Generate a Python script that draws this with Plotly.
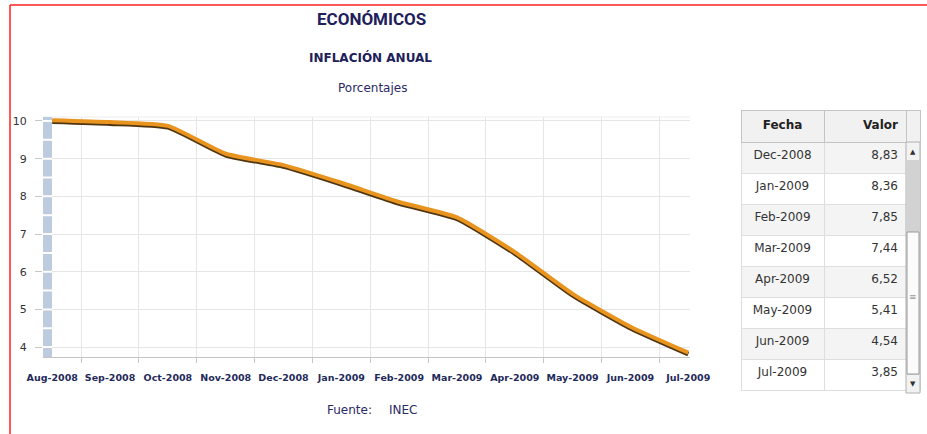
import plotly.graph_objects as go

# ---- data ----
months = ["Aug-2008", "Sep-2008", "Oct-2008", "Nov-2008", "Dec-2008", "Jan-2009",
          "Feb-2009", "Mar-2009", "Apr-2009", "May-2009", "Jun-2009", "Jul-2009"]
values = [10.02, 9.97, 9.87, 9.13, 8.83, 8.36, 7.85, 7.44, 6.52, 5.41, 4.54, 3.85]
y_ticks = [4, 5, 6, 7, 8, 9, 10]
table_start = 4  # rows visible in the table (Dec-2008 .. Jul-2009)

W, H = 927, 434
def px(x):
    return x / W
def py(y):
    return 1 - y / H

NAVY = "#20205a"
FONT = "DejaVu Sans"

table_dates = months[table_start:]
table_vals = [f"{v:.2f}".replace(".", ",") for v in values[table_start:]]
row_fill = ["#f4f4f4" if i % 2 == 0 else "#ffffff" for i in range(len(table_dates))]

fig = go.Figure()

# empty trace to anchor the base axis pair
fig.add_trace(go.Scatter(x=months, y=[None] * len(months), mode="lines",
                         hoverinfo="skip", showlegend=False))
# shadow line (on an overlaying axis with a slightly shifted range)
fig.add_trace(go.Scatter(
    x=months, y=values, mode="lines", yaxis="y2", hoverinfo="skip",
    line=dict(color="#4f3512", width=4.5, shape="spline", smoothing=0.5),
    showlegend=False))
fig.add_trace(go.Scatter(
    x=months, y=values, mode="lines", yaxis="y3",
    line=dict(color="#E8941E", width=4, shape="spline", smoothing=0.5),
    showlegend=False))

fig.add_trace(go.Table(
    domain=dict(x=[px(741), px(920)], y=[py(393), py(110)]),
    columnwidth=[83, 82, 14],
    header=dict(values=["<b>Fecha</b>", "<b>Valor</b>", ""],
                align=["center", "right", "center"],
                fill_color="#f1f1f1", line_color="#c4c4c4",
                font=dict(family=FONT, size=12, color="#222222"), height=32),
    cells=dict(values=[table_dates, table_vals, [""] * len(table_dates)],
               align=["center", "right", "center"],
               fill_color=[row_fill, row_fill, ["#ffffff"] * len(table_dates)],
               line_color="#dedede",
               font=dict(family=FONT, size=12, color="#333333"), height=31),
))

y_lo, y_hi = 3.735, 10.106
shift = 0.04

shapes = [
    # red frame
    dict(type="line", xref="paper", yref="paper", x0=px(10), x1=1.0, y0=py(5), y1=py(5),
         line=dict(color="#ff2020", width=1.5)),
    dict(type="line", xref="paper", yref="paper", x0=px(10), x1=px(10), y0=py(5), y1=0,
         line=dict(color="#ff2020", width=1.5)),
    # faint top border of plot
    dict(type="line", xref="paper", yref="paper", x0=px(43), x1=px(690), y0=py(117), y1=py(117),
         line=dict(color="#ececec", width=1), layer="below"),
    # blue band at left
    dict(type="rect", xref="paper", yref="paper", x0=px(43), x1=px(52), y0=py(357), y1=py(117),
         fillcolor="#bccbdd", line=dict(width=0)),
    dict(type="line", xref="paper", yref="paper", x0=px(47.5), x1=px(47.5), y0=py(120), y1=py(357),
         line=dict(color="#ffffff", width=9, dash="2px,16.84px")),
    # scrollbar
    dict(type="rect", xref="paper", yref="paper", x0=px(906), x1=px(920), y0=py(393), y1=py(142),
         fillcolor="#f2f2f2", line=dict(color="#b0b0b0", width=1)),
    dict(type="rect", xref="paper", yref="paper", x0=px(906.5), x1=px(919.5), y0=py(375), y1=py(160),
         fillcolor="#d2d2d2", line=dict(width=0)),
    dict(type="rect", xref="paper", yref="paper", x0=px(907), x1=px(919), y0=py(374), y1=py(232),
         fillcolor="#fbfbfb", line=dict(color="#9a9a9a", width=1)),
]

annotations = [
    dict(text="<b>ECONÓMICOS</b>", x=px(371), y=py(19), font=dict(family="Roboto", size=17, color=NAVY)),
    dict(text="<b>INFLACIÓN ANUAL</b>", x=px(370), y=py(57), font=dict(family=FONT, size=12, color=NAVY)),
    dict(text="Porcentajes", x=px(372), y=py(88), font=dict(family=FONT, size=12, color="#2a2a66")),
    dict(text="Fuente:", x=px(349), y=py(410), font=dict(family=FONT, size=12, color="#2a2a66")),
    dict(text="INEC", x=px(403), y=py(410), font=dict(family=FONT, size=12, color="#2a2a66")),
    dict(text="▲", x=px(913), y=py(152), font=dict(family=FONT, size=7, color="#333333")),
    dict(text="▼", x=px(913), y=py(384), font=dict(family=FONT, size=7, color="#333333")),
    dict(text="≡", x=px(913), y=py(297), font=dict(family=FONT, size=9, color="#999999")),
]
for a in annotations:
    a.update(xref="paper", yref="paper", showarrow=False, xanchor="center", yanchor="middle")

fig.update_layout(
    width=W, height=H,
    margin=dict(l=0, r=0, t=0, b=0),
    paper_bgcolor="white", plot_bgcolor="white",
    showlegend=False,
    font=dict(family=FONT, color="#333333"),
    xaxis=dict(
        type="category", domain=[px(43), px(690)], range=[-0.16, 11.03],
        tickson="boundaries", ticks="outside", ticklen=5, tickcolor="#c8c8c8",
        showgrid=True, gridcolor="#e6e6e6", gridwidth=1,
        showline=True, linecolor="#c4c4c4", linewidth=1,
        tickfont=dict(family=FONT, size=9.5, color="#1f2a5a", weight="bold"),
        tickangle=0,
        ticklabelstandoff=12, automargin=False, zeroline=False,
    ),
    yaxis=dict(
        domain=[py(357), py(117)], range=[y_lo, y_hi],
        tickvals=y_ticks, ticks="outside", ticklen=7, tickcolor="#c8c8c8",
        showgrid=True, gridcolor="#e6e6e6", gridwidth=1,
        showline=False, zeroline=False,
        tickfont=dict(family=FONT, size=11, color="#333333"),
        ticklabelstandoff=6, automargin=False,
    ),
    yaxis2=dict(overlaying="y", range=[y_lo + shift, y_hi + shift], visible=False,
                showgrid=False, zeroline=False),
    yaxis3=dict(overlaying="y", range=[y_lo, y_hi], visible=False,
                showgrid=False, zeroline=False),
    shapes=shapes,
    annotations=annotations,
)

fig.write_html("out.html", config={"displayModeBar": False},
               post_script="document.body.style.margin='0px';document.body.style.overflow='hidden';")
